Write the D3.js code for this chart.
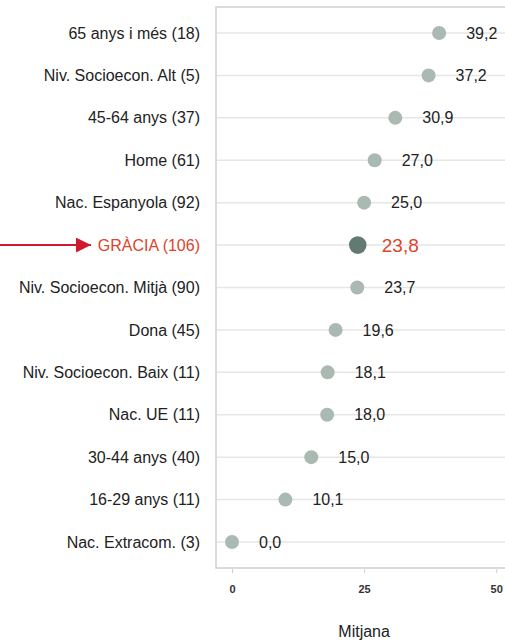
<!DOCTYPE html>
<html>
<head>
<meta charset="utf-8">
<script src="https://cdn.jsdelivr.net/npm/d3@7"></script>
<style>
  body { margin: 0; background: #fff; }
  svg { display: block; font-family: "Liberation Sans", Arial, sans-serif; }
</style>
</head>
<body>
<svg id="chart" width="505" height="640"></svg>
<script>
const categories = [
  '65 anys i més (18)', 'Niv. Socioecon. Alt (5)', '45-64 anys (37)', 'Home (61)',
  'Nac. Espanyola (92)', 'GRÀCIA (106)', 'Niv. Socioecon. Mitjà (90)', 'Dona (45)',
  'Niv. Socioecon. Baix (11)', 'Nac. UE (11)', '30-44 anys (40)', '16-29 anys (11)',
  'Nac. Extracom. (3)'
];
const values = [39.2, 37.2, 30.9, 27.0, 25.0, 23.8, 23.7, 19.6, 18.1, 18.0, 15.0, 10.1, 0.0];
const highlight = 'GRÀCIA (106)';
const xTicks = [0, 25, 50];
const xTitle = 'Mitjana';

const svg = d3.select('#chart');
const plot = { left: 216, top: 7, bottom: 568, right: 520 };

const x = d3.scaleLinear().domain([-3.03, 54.5]).range([plot.left, plot.right]);
const y = d3.scalePoint().domain(categories).range([33, 542]);

const fmt = v => d3.format('.1f')(v).replace('.', ',');

// frame
svg.append('path')
  .attr('d', `M${plot.right},${plot.top}H${plot.left}V${plot.bottom}H${plot.right}`)
  .attr('fill', 'none')
  .attr('stroke', '#cfcfcf')
  .attr('stroke-width', 1.5);

// grid lines
svg.selectAll('line.grid').data(categories).enter()
  .append('line')
  .classed('grid', true)
  .attr('x1', plot.left + 1)
  .attr('x2', plot.right)
  .attr('y1', d => y(d))
  .attr('y2', d => y(d))
  .attr('stroke', '#e6e6e6')
  .attr('stroke-width', 1.5);

// x axis
const xAxis = svg.append('g')
  .attr('transform', `translate(0,${plot.bottom + 1})`)
  .call(d3.axisBottom(x).tickValues(xTicks).tickSize(4).tickPadding(12));
xAxis.select('.domain').remove();
xAxis.selectAll('.tick line').attr('stroke', '#cfcfcf');
xAxis.selectAll('.tick text')
  .attr('font-size', 11)
  .attr('font-weight', 'bold')
  .attr('fill', '#333')
  .attr('font-family', '"Liberation Sans", Arial, sans-serif');

svg.append('text')
  .attr('x', x(25))
  .attr('y', 637)
  .attr('text-anchor', 'middle')
  .attr('font-size', 16)
  .attr('fill', '#222')
  .text(xTitle);

// category labels
svg.selectAll('text.cat').data(categories).enter()
  .append('text')
  .classed('cat', true)
  .attr('x', 200)
  .attr('y', d => y(d))
  .attr('dy', '0.35em')
  .attr('text-anchor', 'end')
  .attr('font-size', 16)
  .attr('fill', d => d === highlight ? '#e0432b' : '#222')
  .text(d => d);

// arrow for highlighted row
svg.append('defs').append('marker')
  .attr('id', 'arrow')
  .attr('viewBox', '0 0 10 10')
  .attr('refX', 10).attr('refY', 5)
  .attr('markerWidth', 15).attr('markerHeight', 15)
  .attr('markerUnits', 'userSpaceOnUse')
  .attr('orient', 'auto')
  .append('path')
  .attr('d', 'M0,0L10,5L0,10Z')
  .attr('fill', '#d0182f');

svg.append('line')
  .attr('x1', 0).attr('x2', 91)
  .attr('y1', y(highlight)).attr('y2', y(highlight))
  .attr('stroke', '#d0182f')
  .attr('stroke-width', 2)
  .attr('marker-end', 'url(#arrow)');

// dots
const rows = categories.map((c, i) => ({ cat: c, value: values[i] }));
svg.selectAll('circle.dot').data(rows).enter()
  .append('circle')
  .classed('dot', true)
  .attr('cx', d => x(d.value))
  .attr('cy', d => y(d.cat))
  .attr('r', d => d.cat === highlight ? 8.8 : 7)
  .attr('fill', d => d.cat === highlight ? '#617b72' : '#aab9b2');

// value labels
svg.selectAll('text.val').data(rows).enter()
  .append('text')
  .classed('val', true)
  .attr('x', d => x(d.value) + (d.cat === highlight ? 24 : 27))
  .attr('y', d => y(d.cat))
  .attr('dy', '0.35em')
  .attr('font-size', d => d.cat === highlight ? 19 : 16)
  .attr('fill', d => d.cat === highlight ? '#e0432b' : '#222')
  .text(d => fmt(d.value));
</script>
</body>
</html>
